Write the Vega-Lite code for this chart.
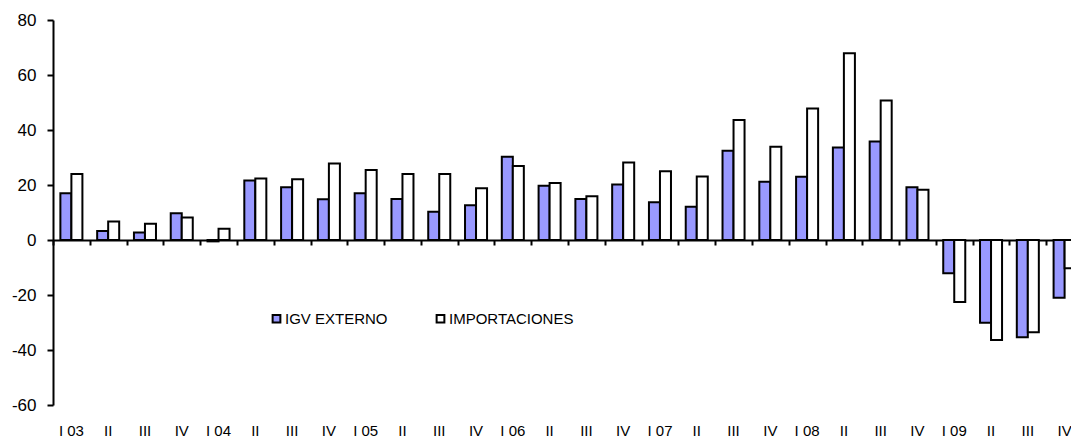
{
  "$schema": "https://vega.github.io/schema/vega-lite/v6.json",
  "width": 1018,
  "height": 385,
  "autosize": {"type": "none"},
  "padding": {"left": 53, "top": 20, "right": 0, "bottom": 35},
  "background": "white",
  "config": {
    "view": {"stroke": null},
    "font": "Liberation Sans",
    "axis": {"labelFont": "Liberation Sans", "labelColor": "black", "domainColor": "black", "tickColor": "black", "grid": false},
    "axisY": {"labelFontSize": 17, "labelPadding": 11, "tickSize": 6, "tickWidth": 2, "domainWidth": 2, "labelExpr": "'' + datum.value"},
    "legend": {"labelFont": "Liberation Sans", "labelColor": "black"}
  },
  "data": {
    "values": [
      {"periodo": "I 03", "serie": "IGV EXTERNO", "valor": 17.0},
      {"periodo": "I 03", "serie": "IMPORTACIONES", "valor": 24.0},
      {"periodo": "II 03", "serie": "IGV EXTERNO", "valor": 3.3},
      {"periodo": "II 03", "serie": "IMPORTACIONES", "valor": 6.7},
      {"periodo": "III 03", "serie": "IGV EXTERNO", "valor": 2.7},
      {"periodo": "III 03", "serie": "IMPORTACIONES", "valor": 5.9},
      {"periodo": "IV 03", "serie": "IGV EXTERNO", "valor": 9.7},
      {"periodo": "IV 03", "serie": "IMPORTACIONES", "valor": 8.2},
      {"periodo": "I 04", "serie": "IGV EXTERNO", "valor": -0.5},
      {"periodo": "I 04", "serie": "IMPORTACIONES", "valor": 4.1},
      {"periodo": "II 04", "serie": "IGV EXTERNO", "valor": 21.6},
      {"periodo": "II 04", "serie": "IMPORTACIONES", "valor": 22.4},
      {"periodo": "III 04", "serie": "IGV EXTERNO", "valor": 19.2},
      {"periodo": "III 04", "serie": "IMPORTACIONES", "valor": 22.1},
      {"periodo": "IV 04", "serie": "IGV EXTERNO", "valor": 14.8},
      {"periodo": "IV 04", "serie": "IMPORTACIONES", "valor": 27.8},
      {"periodo": "I 05", "serie": "IGV EXTERNO", "valor": 17.0},
      {"periodo": "I 05", "serie": "IMPORTACIONES", "valor": 25.5},
      {"periodo": "II 05", "serie": "IGV EXTERNO", "valor": 14.9},
      {"periodo": "II 05", "serie": "IMPORTACIONES", "valor": 24.0},
      {"periodo": "III 05", "serie": "IGV EXTERNO", "valor": 10.3},
      {"periodo": "III 05", "serie": "IMPORTACIONES", "valor": 24.0},
      {"periodo": "IV 05", "serie": "IGV EXTERNO", "valor": 12.6},
      {"periodo": "IV 05", "serie": "IMPORTACIONES", "valor": 18.8},
      {"periodo": "I 06", "serie": "IGV EXTERNO", "valor": 30.3},
      {"periodo": "I 06", "serie": "IMPORTACIONES", "valor": 26.9},
      {"periodo": "II 06", "serie": "IGV EXTERNO", "valor": 19.7},
      {"periodo": "II 06", "serie": "IMPORTACIONES", "valor": 20.7},
      {"periodo": "III 06", "serie": "IGV EXTERNO", "valor": 14.9},
      {"periodo": "III 06", "serie": "IMPORTACIONES", "valor": 15.9},
      {"periodo": "IV 06", "serie": "IGV EXTERNO", "valor": 20.2},
      {"periodo": "IV 06", "serie": "IMPORTACIONES", "valor": 28.2},
      {"periodo": "I 07", "serie": "IGV EXTERNO", "valor": 13.7},
      {"periodo": "I 07", "serie": "IMPORTACIONES", "valor": 25.0},
      {"periodo": "II 07", "serie": "IGV EXTERNO", "valor": 12.1},
      {"periodo": "II 07", "serie": "IMPORTACIONES", "valor": 23.1},
      {"periodo": "III 07", "serie": "IGV EXTERNO", "valor": 32.5},
      {"periodo": "III 07", "serie": "IMPORTACIONES", "valor": 43.6},
      {"periodo": "IV 07", "serie": "IGV EXTERNO", "valor": 21.2},
      {"periodo": "IV 07", "serie": "IMPORTACIONES", "valor": 33.9},
      {"periodo": "I 08", "serie": "IGV EXTERNO", "valor": 23.0},
      {"periodo": "I 08", "serie": "IMPORTACIONES", "valor": 47.8},
      {"periodo": "II 08", "serie": "IGV EXTERNO", "valor": 33.6},
      {"periodo": "II 08", "serie": "IMPORTACIONES", "valor": 67.9},
      {"periodo": "III 08", "serie": "IGV EXTERNO", "valor": 35.8},
      {"periodo": "III 08", "serie": "IMPORTACIONES", "valor": 50.7},
      {"periodo": "IV 08", "serie": "IGV EXTERNO", "valor": 19.2},
      {"periodo": "IV 08", "serie": "IMPORTACIONES", "valor": 18.3},
      {"periodo": "I 09", "serie": "IGV EXTERNO", "valor": -12.1},
      {"periodo": "I 09", "serie": "IMPORTACIONES", "valor": -22.5},
      {"periodo": "II 09", "serie": "IGV EXTERNO", "valor": -30.1},
      {"periodo": "II 09", "serie": "IMPORTACIONES", "valor": -36.4},
      {"periodo": "III 09", "serie": "IGV EXTERNO", "valor": -35.4},
      {"periodo": "III 09", "serie": "IMPORTACIONES", "valor": -33.5},
      {"periodo": "IV 09", "serie": "IGV EXTERNO", "valor": -21.0},
      {"periodo": "IV 09", "serie": "IMPORTACIONES", "valor": -10.3}
    ]
  },
  "layer": [
    {
      "mark": {"type": "bar", "opacity": 0},
      "encoding": {
        "x": {
          "field": "periodo",
          "type": "nominal",
          "sort": null,
          "scale": {"range": [0, 1030], "padding": 0},
          "axis": {
            "orient": "bottom",
            "offset": -165,
            "title": null,
            "labels": false,
            "ticks": true,
            "tickBand": "extent",
            "tickSize": 5,
            "tickWidth": 2,
            "domain": true,
            "domainWidth": 2
          }
        },
        "y": {
          "datum": 0,
          "type": "quantitative",
          "scale": {"domain": [-60, 80], "nice": false},
          "axis": {"title": null, "values": [-60, -40, -20, 0, 20, 40, 60, 80]}
        }
      }
    },
    {
      "mark": {"type": "bar", "stroke": "black", "strokeWidth": 2},
      "encoding": {
        "x": {
          "field": "periodo",
          "type": "nominal",
          "sort": null,
          "axis": {
            "orient": "bottom",
            "title": null,
            "domain": false,
            "ticks": false,
            "labelAngle": 0,
            "labelFontSize": 15,
            "labelPadding": 18,
            "labelOverlap": false,
            "labelExpr": "indexof(datum.label, 'I ') == 0 ? datum.label : split(datum.label, ' ')[0]"
          }
        },
        "xOffset": {
          "field": "serie",
          "type": "nominal",
          "scale": {"paddingInner": 0, "paddingOuter": 0.67}
        },
        "y": {
          "field": "valor",
          "type": "quantitative",
          "scale": {"domain": [-60, 80], "nice": false},
          "axis": {"title": null, "values": [-60, -40, -20, 0, 20, 40, 60, 80]}
        },
        "color": {
          "field": "serie",
          "type": "nominal",
          "scale": {"domain": ["IGV EXTERNO", "IMPORTACIONES"], "range": ["#9999FF", "#FFFFFF"]},
          "legend": {
            "title": null,
            "orient": "none",
            "legendX": 216,
            "legendY": 291,
            "direction": "horizontal",
            "padding": 0,
            "columnPadding": 44,
            "symbolType": "square",
            "symbolSize": 60,
            "symbolStrokeColor": "black",
            "symbolStrokeWidth": 2,
            "symbolOpacity": 1,
            "labelFontSize": 15,
            "labelOffset": 1
          }
        }
      }
    }
  ],
  "resolve": {"axis": {"x": "independent"}}
}
